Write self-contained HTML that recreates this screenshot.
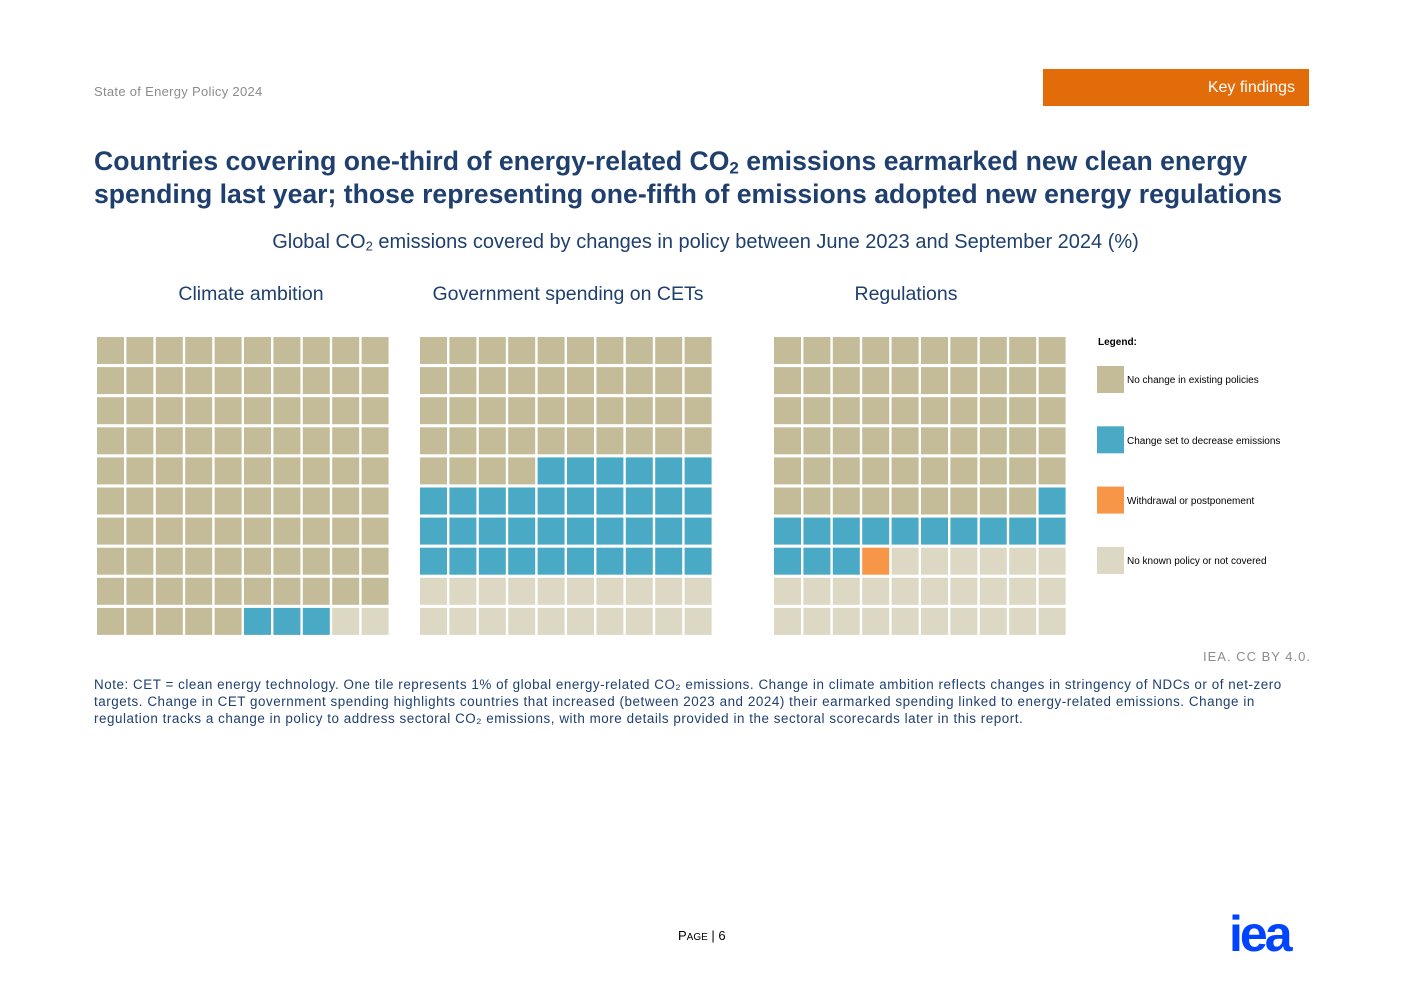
<!DOCTYPE html>
<html><head><meta charset="utf-8"><style>
body{margin:0;width:1403px;height:992px;background:#fff;font-family:"Liberation Sans",sans-serif;position:relative;overflow:hidden}
.a{position:absolute;white-space:nowrap}
sub{line-height:0;vertical-align:-0.2em}
</style></head><body>
<div class="a" style="left:94px;top:84px;font-size:13px;color:#8c8c8c;letter-spacing:0.3px">State of Energy Policy 2024</div>
<div class="a" style="left:1043px;top:69px;width:266px;height:37px;background:#e36c0a"><span style="position:absolute;right:14px;top:10px;color:#fff;font-size:16px">Key findings</span></div>
<div class="a" style="left:94px;top:145px;font-size:26.6px;font-weight:bold;color:#1f3f6e;line-height:33px">Countries covering one-third of energy-related CO<sub style="font-size:17px">2</sub> emissions earmarked new clean energy<br>spending last year; those representing one-fifth of emissions adopted new energy regulations</div>
<div class="a" style="left:0;width:1411px;text-align:center;top:231px;font-size:20px;color:#1f3f6e">Global CO<sub style="font-size:13px">2</sub> emissions covered by changes in policy between June 2023 and September 2024 (%)</div>
<div class="a" style="left:96px;width:310px;text-align:center;top:283px;font-size:19.5px;color:#1f3f6e">Climate ambition</div>
<div class="a" style="left:413px;width:310px;text-align:center;top:283px;font-size:19.5px;color:#1f3f6e">Government spending on CETs</div>
<div class="a" style="left:751px;width:310px;text-align:center;top:283px;font-size:19.5px;color:#1f3f6e">Regulations</div>
<svg id="chart" class="a" style="left:0;top:0" width="1403" height="992"></svg>
<div class="a" style="left:1098px;top:337px;font-size:10px;font-weight:bold;color:#000">Legend:</div>
<div class="a" style="left:1127px;top:375px;font-size:10px">No change in existing policies</div>
<div class="a" style="left:1127px;top:436px;font-size:10px">Change set to decrease emissions</div>
<div class="a" style="left:1127px;top:496px;font-size:10px">Withdrawal or postponement</div>
<div class="a" style="left:1127px;top:556px;font-size:10px">No known policy or not covered</div>
<div class="a" style="left:1203px;top:649px;font-size:13px;color:#8c8c8c;letter-spacing:1px">IEA. CC BY 4.0.</div>
<div class="a" style="left:94px;top:676px;font-size:13.4px;color:#1f3f6e;line-height:17px;white-space:normal;width:1218px;letter-spacing:0.55px">Note: CET = clean energy technology. One tile represents 1% of global energy-related CO₂ emissions. Change in climate ambition reflects changes in stringency of NDCs or of net-zero targets. Change in CET government spending highlights countries that increased (between 2023 and 2024) their earmarked spending linked to energy-related emissions. Change in regulation tracks a change in policy to address sectoral CO₂ emissions, with more details provided in the sectoral scorecards later in this report.</div>
<div class="a" style="left:678px;top:928px;font-size:13px;color:#000">P<span style="font-size:10px">AGE</span> | 6</div>
<div class="a" style="left:1229px;top:905px;font-size:50px;font-weight:bold;color:#0044ff;letter-spacing:-3px">iea</div>
<script>
const categories=["No change in existing policies","Change set to decrease emissions","Withdrawal or postponement","No known policy or not covered"];
const colors=["#c4bc98","#4aaac6","#f79646","#ddd8c4"];
const panels=["Climate ambition","Government spending on CETs","Regulations"];
const climateValues=[95,3,0,2];
const spendingValues=[44,36,0,20];
const regulationValues=[59,14,1,26];
const allValues=[climateValues,spendingValues,regulationValues];
const svg=document.getElementById('chart');
const NS='http://www.w3.org/2000/svg';
const originsX=[97,420,774],originY=337,pitchX=29.4,pitchY=30.1,tile=27;
allValues.forEach((vals,p)=>{
  const g=document.createElementNS(NS,'g');
  
  
  svg.appendChild(g);
  let idx=0;
  vals.forEach((v,c)=>{
    for(let k=0;k<v;k++){
      const r=Math.floor(idx/10),col=idx%10;
      const rect=document.createElementNS(NS,'rect');
      rect.setAttribute('x',originsX[p]+col*pitchX);
      rect.setAttribute('y',originY+r*pitchY);
      rect.setAttribute('width',tile);rect.setAttribute('height',tile);
      rect.setAttribute('fill',colors[c]);
      
      
      g.appendChild(rect);idx++;
    }
  });
});
colors.forEach((col,i)=>{
  const rect=document.createElementNS(NS,'rect');
  rect.setAttribute('x',1097);rect.setAttribute('y',366+i*60.3);
  rect.setAttribute('width',27);rect.setAttribute('height',27);rect.setAttribute('fill',col);
  
  
  svg.appendChild(rect);
});
</script>
</body></html>
